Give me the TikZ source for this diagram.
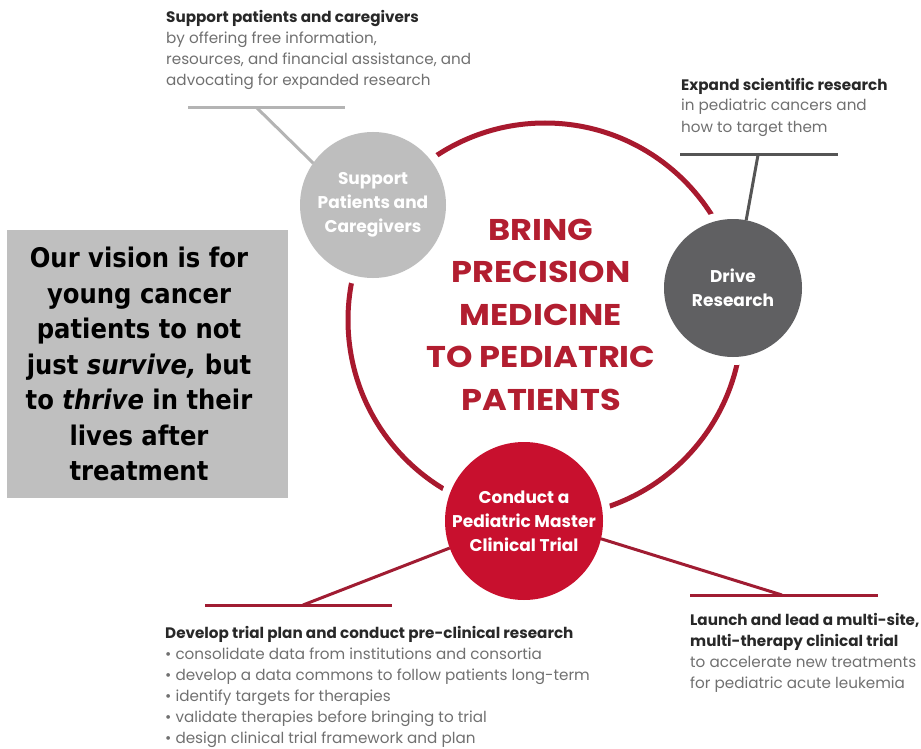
\documentclass[tikz,border=0pt]{standalone}
\usepackage{fontspec}
\setmainfont{Poppins}
\newfontfamily\titlefont{Poppins}[FakeStretch=1.12]
\newfontfamily\visfont{DejaVu Sans}[FakeStretch=0.9]
\definecolor{ringred}{RGB}{168,25,46}
\definecolor{trialred}{RGB}{200,16,46}
\definecolor{lgray}{RGB}{190,190,190}
\definecolor{dgray}{RGB}{96,96,98}
\definecolor{boxgray}{RGB}{191,191,191}
\definecolor{txtgray}{RGB}{112,112,112}
\definecolor{txtdark}{RGB}{40,40,40}
\definecolor{titlered}{RGB}{178,30,48}
\definecolor{lightline}{RGB}{180,180,180}
\definecolor{darkline}{RGB}{85,85,85}
\definecolor{redline}{RGB}{160,28,50}
\begin{document}
\begin{tikzpicture}[x=1pt,y=-1pt,
  hub/.style={circle, inner sep=0pt, outer sep=0pt, align=center, text=white,
    font=\fontsize{17}{24}\selectfont\bfseries, preaction={draw=white, line width=16pt}},
  callout/.style={anchor=base west, align=left, inner sep=0pt, text=txtgray,
    font=\fontsize{15.2}{21}\selectfont},
  lead/.style={line width=3pt}
]
\useasboundingbox (0,0) rectangle (921,749);
% main ring
\node[circle, draw=ringred, line width=5pt, minimum size=394pt, inner sep=0pt] (ring) at (545,320) {};
% title
\node[font=\titlefont\fontsize{30}{42.5}\selectfont\bfseries, text=titlered, align=center, anchor=base, inner sep=0pt] (title) at (541,410)
  {BRING\\PRECISION\\MEDICINE\\TO PEDIATRIC\\PATIENTS};
% hubs
\node[hub, fill=lgray, minimum size=146pt] (sup) at (373,205) {Support\\Patients and\\Caregivers};
\node[hub, fill=dgray, minimum size=138pt] (drv) at (733,288) {Drive\\Research};
\node[hub, fill=trialred, minimum size=158pt] (trial) at (524,521) {Conduct a\\Pediatric Master\\Clinical Trial};
% vision box
\node[fill=boxgray, minimum width=281pt, minimum height=268pt, inner sep=0pt] (vision) at (147.5,364) {};
\node[inner sep=0pt, align=center, font=\visfont\fontsize{27}{35.5}\selectfont\bfseries, text=black] (visiontext) at (139,364)
  {Our vision is for\\young cancer\\patients to not\\just \textit{survive,} but\\to \textit{thrive} in their\\lives after\\treatment};
% callout texts (anchor = baseline of last line)
\node[callout] (tsup) at (166,86) {{\color{txtdark}\bfseries Support patients and caregivers}\\by offering free information,\\resources, and financial assistance, and\\advocating for expanded research};
\node[callout] (tdrv) at (681,132) {{\color{txtdark}\bfseries Expand scientific research}\\in pediatric cancers and\\how to target them};
\node[callout] (tdev) at (165,743) {{\color{txtdark}\bfseries Develop trial plan and conduct pre-clinical research}\\• consolidate data from institutions and consortia\\• develop a data commons to follow patients long-term\\• identify targets for therapies\\• validate therapies before bringing to trial\\• design clinical trial framework and plan};
\node[callout] (tlau) at (690,688) {{\color{txtdark}\bfseries Launch and lead a multi-site,}\\{\color{txtdark}\bfseries multi-therapy clinical trial}\\to accelerate new treatments\\for pediatric acute leukemia};
% leader lines
\coordinate (s1) at (188,108); \coordinate (s2) at (345,108); \coordinate (sj) at (257,108);
\draw[lead, lightline] (s1) -- (s2);
\draw[lead, lightline] (sj) -- (sup.145);
\coordinate (d1) at (680,155); \coordinate (d2) at (838,155); \coordinate (dj) at (758,155);
\draw[lead, darkline] (d1) -- (d2);
\draw[lead, darkline] (dj) -- (drv.79);
\coordinate (l1) at (205,605); \coordinate (l2) at (392,605); \coordinate (lj) at (303,605);
\draw[lead, redline] (l1) -- (l2);
\draw[lead, redline] (lj) -- (trial.200);
\coordinate (r1) at (690,595); \coordinate (r2) at (878,595); \coordinate (rj) at (782,595);
\draw[lead, redline] (r1) -- (r2);
\draw[lead, redline] (rj) -- (trial.-13);
\end{tikzpicture}
\end{document}
